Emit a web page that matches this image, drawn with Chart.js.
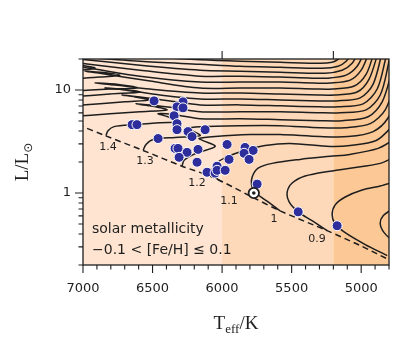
<!DOCTYPE html>
<html>
<head>
<meta charset="utf-8">
<script src="https://cdn.jsdelivr.net/npm/chart.js@4.4.1/dist/chart.umd.min.js"></script>
<style>
  html, body { margin: 0; padding: 0; background: #fff; }
  #wrap { width: 415px; height: 344px; position: relative; }
</style>
</head>
<body>
<div id="wrap"><canvas id="hrd"></canvas></div>
<script>
// axis ticks and background bands (Teff in K, luminosity in Lsun)
const xMajor = [5000, 5500, 6000, 6500, 7000];
const yMajor = [1, 10];
const yMinor = [0.2, 0.3, 0.4, 0.5, 0.6, 0.7, 0.8, 0.9, 2, 3, 4, 5, 6, 7, 8, 9, 20];
const topTicks = [6000, 5200];
const bandEdges = [7000, 6000, 5200, 4800];
const bandColors = ["#fee4d1", "#fdd9b9", "#fcc895"];

// zero-age main sequence (dashed)
const zams = [[7036, 4.61], [6842, 3.61], [6568, 2.59], [6288, 1.82], [6065, 1.42], [5799, 0.936],
  [5583, 0.671], [5245, 0.431], [5007, 0.309], [4777, 0.217]];

// evolutionary tracks, [Teff, L]
const m075 = [[4763, 0.331], [4835, 0.412], [4863, 0.503], [4842, 0.601], [4763, 0.717]];
const m08 = [[4813, 0.247], [4971, 0.316], [5115, 0.412], [5187, 0.503], [5209, 0.614], [5187, 0.767],
  [5115, 0.915], [4993, 1.07], [4863, 1.17], [4763, 1.28]];
const m09 = [[5245, 0.431], [5353, 0.538], [5453, 0.656], [5518, 0.819], [5532, 1.02], [5496, 1.25],
  [5403, 1.46], [5223, 1.63], [5079, 1.74], [4863, 1.94], [4763, 2.22]];
const m10 = [[5583, 0.671], [5669, 0.819], [5748, 0.978], [5784, 1.14], [5784, 1.42], [5741, 1.74],
  [5640, 1.94], [5439, 2.12], [5223, 2.27], [5079, 2.37], [4878, 2.71], [4763, 3.31]];
const m11 = [[6000, 1.28], [6050, 1.42], [6072, 1.63], [6043, 1.94], [5957, 2.27], [5835, 2.59],
  [5691, 2.89], [5511, 3.03], [5223, 2.83], [5079, 2.89], [4892, 3.23], [4777, 4.41]];
const m12 = [[6288, 1.82], [6273, 2.08], [6187, 2.43], [6050, 2.83], [6137, 3.23], [6165, 3.38],
  [6050, 3.53], [5799, 3.69], [5583, 3.69], [5295, 3.53], [5094, 3.53], [4914, 3.95], [4806, 5.38], [4748, 8.95]];
const m13 = [[6568, 2.59], [6547, 2.96], [6496, 3.31], [6338, 3.46], [6158, 3.61], [6216, 4.03],
  [6252, 4.22], [6158, 4.41], [5871, 4.51], [5583, 4.51], [5295, 4.31], [5115, 4.31], [4935, 4.71],
  [4827, 6.42], [4755, 11.94]];
const m14 = [[6835, 3.61], [6820, 4.03], [6777, 4.41], [6626, 4.61], [6446, 4.82], [6302, 4.92],
  [6389, 5.50], [6460, 5.88], [6338, 5.75], [6158, 5.26], [5871, 5.26], [5583, 5.15], [5295, 5.04],
  [5137, 5.04], [4950, 5.50], [4849, 7.67], [4777, 15.57]];
const m15 = [[7079, 5.50], [6806, 5.88], [6590, 6.14], [6396, 6.42], [6518, 7.02], [6619, 7.34],
  [6518, 7.17], [6338, 6.71], [6158, 6.14], [5871, 6.14], [5583, 6.14], [5295, 6.01], [5151, 6.01],
  [4964, 6.42], [4863, 8.95], [4806, 17.39], [4791, 24.25]];
const m16 = [[7079, 7.02], [6878, 7.34], [6698, 7.67], [6518, 8.01], [6626, 8.56], [6719, 8.95],
  [6590, 8.56], [6374, 7.84], [6158, 7.17], [5871, 7.17], [5583, 7.02], [5295, 6.86], [5166, 6.86],
  [4986, 7.34], [4885, 10.22], [4827, 19.44], [4813, 24.25]];
const m17 = [[7079, 8.56], [6806, 9.15], [6590, 9.57], [6734, 10.22], [6842, 10.45], [6698, 10.0],
  [6446, 8.95], [6158, 8.19], [5871, 8.19], [5583, 8.01], [5295, 7.84], [5180, 7.84], [5007, 8.38],
  [4914, 11.42], [4849, 23.2]];
const m18 = [[7079, 9.78], [6806, 10.22], [6604, 10.45], [6770, 11.42], [6914, 11.68], [6770, 11.17],
  [6518, 10.22], [6158, 9.36], [5871, 9.36], [5583, 9.15], [5309, 8.95], [5194, 8.95], [5029, 9.57],
  [4943, 12.76], [4878, 23.2]];
const m19 = [[7079, 12.76], [6878, 13.34], [6734, 13.94], [6878, 14.89], [6986, 15.23], [6878, 14.57],
  [6518, 12.2], [6158, 10.45], [5871, 10.45], [5583, 10.45], [5324, 10.22], [5209, 10.22], [5050, 10.93],
  [4964, 14.25], [4907, 23.2]];
const m20 = [[7079, 15.23], [6914, 16.27], [7007, 17.39], [7140, 18.18], [7140, 17.39], [7000, 16.64],
  [6590, 13.63], [6158, 11.94], [5871, 11.94], [5583, 11.94], [5338, 11.68], [5223, 11.68], [5079, 12.48],
  [5000, 15.57], [4943, 23.2]];
const m21 = [[7079, 18.59], [6590, 15.57], [6158, 13.63], [5871, 13.63], [5583, 13.34], [5353, 13.04],
  [5237, 13.04], [5108, 13.94], [5029, 17.01], [4978, 23.2]];
const m22 = [[7079, 20.31], [6590, 17.39], [6158, 15.57], [5871, 15.23], [5583, 14.89], [5259, 14.57],
  [5137, 15.57], [5065, 18.18], [5022, 23.2]];
const m23 = [[7079, 21.23], [6590, 19.01], [6158, 17.78], [5871, 17.01], [5583, 16.64], [5281, 16.27],
  [5166, 17.01], [5108, 19.01], [5065, 23.2]];
const m24 = [[7079, 23.2], [6590, 21.23], [6158, 19.66], [5871, 19.01], [5583, 18.59], [5295, 18.18],
  [5209, 18.59], [5166, 19.87], [5115, 23.2]];

// mass labels along the ZAMS
const massLabels = ["1.4", "1.3", "1.2", "1.1", "1", "0.9"];
const massLabelPos = [[6820, 2.77], [6554, 2.03], [6180, 1.25], [5950, 0.838], [5626, 0.562], [5317, 0.353]];

// observed stars
const stars = [[6489, 7.84], [6281, 7.67], [6324, 6.86], [6281, 6.71], [6345, 5.62], [6324, 4.71],
  [6324, 4.12], [6647, 4.61], [6612, 4.61], [6460, 3.38], [6245, 3.95], [6216, 3.53], [6122, 4.12],
  [6338, 2.71], [6317, 2.71], [6252, 2.48], [6173, 2.65], [6309, 2.22], [6180, 1.99], [6108, 1.59],
  [6050, 1.56], [6036, 1.82], [6036, 1.66], [5978, 1.66], [5950, 2.12], [5964, 2.96], [5835, 2.77],
  [5777, 2.59], [5842, 2.43], [5806, 2.12], [5748, 1.22], [5453, 0.656], [5173, 0.481]];
const sun = [[5772, 1.0]];

const ink = "#1e1e1e";
const sans = "'DejaVu Sans', sans-serif";
const serif = "'Liberation Serif', 'DejaVu Serif', serif";

function pts(arr) {
  return arr.map(p => ({ x: p[0], y: p[1] }));
}

function track(arr) {
  return {
    data: pts(arr), showLine: true, borderColor: ink, borderWidth: 1.5,
    pointRadius: 0, tension: 0.3, clip: 0
  };
}

const trackList = [m075, m08, m09, m10, m11, m12, m13, m14, m15, m16, m17, m18, m19, m20, m21, m22, m23, m24];

const datasets = [
  { data: pts(sun), pointRadius: 1.8, backgroundColor: ink, borderWidth: 0 },
  { data: pts(sun), pointRadius: 5.2, backgroundColor: "#fff", borderColor: ink, borderWidth: 1.8 },
  { data: pts(stars), pointRadius: 5, backgroundColor: "#2d2d9b", borderColor: "#fff", borderWidth: 1 },
  { data: pts(zams), showLine: true, borderColor: ink, borderWidth: 1.5, borderDash: [6, 4],
    pointRadius: 0, tension: 0.3, clip: 0 }
];
trackList.forEach(t => datasets.push(track(t)));

const decor = {
  id: "decor",
  beforeDatasetsDraw(chart) {
    const { ctx, chartArea: a, scales: { x } } = chart;
    ctx.save();
    for (let i = 0; i < bandColors.length; i++) {
      const x0 = x.getPixelForValue(bandEdges[i]);
      const x1 = x.getPixelForValue(bandEdges[i + 1]);
      ctx.fillStyle = bandColors[i];
      ctx.fillRect(x0, a.top, x1 - x0, a.bottom - a.top);
    }
    ctx.restore();
  },
  afterDatasetsDraw(chart) {
    const { ctx, chartArea: a, scales: { x, y } } = chart;
    ctx.save();
    ctx.fillStyle = ink;
    ctx.font = "11px " + sans;
    ctx.textAlign = "center";
    ctx.textBaseline = "middle";
    massLabels.forEach((t, i) => {
      ctx.fillText(t, x.getPixelForValue(massLabelPos[i][0]), y.getPixelForValue(massLabelPos[i][1]));
    });
    ctx.font = "14px " + sans;
    ctx.textAlign = "left";
    ctx.fillText("solar metallicity", a.left + 9, a.bottom - 36);
    ctx.fillText("\u22120.1 < [Fe/H] \u2264 0.1", a.left + 9, a.bottom - 15);
    ctx.restore();
  },
  afterDraw(chart) {
    const { ctx, chartArea: a, scales: { x, y } } = chart;
    ctx.save();
    ctx.strokeStyle = ink;
    ctx.lineWidth = 1.3;
    ctx.strokeRect(a.left, a.top, a.right - a.left, a.bottom - a.top);
    ctx.lineWidth = 1.1;
    ctx.beginPath();
    for (let t = 4800; t <= 7000; t += 100) {
      const px = x.getPixelForValue(t);
      const len = t % 500 === 0 ? 8 : 4.5;
      ctx.moveTo(px, a.bottom);
      ctx.lineTo(px, a.bottom + len);
    }
    topTicks.forEach(t => {
      const px = x.getPixelForValue(t);
      ctx.moveTo(px, a.top);
      ctx.lineTo(px, a.top - 8);
    });
    yMajor.forEach(v => {
      const py = y.getPixelForValue(v);
      ctx.moveTo(a.left, py);
      ctx.lineTo(a.left - 8, py);
    });
    yMinor.forEach(v => {
      const py = y.getPixelForValue(v);
      ctx.moveTo(a.left, py);
      ctx.lineTo(a.left - 4.5, py);
    });
    ctx.stroke();

    // axis titles
    ctx.fillStyle = ink;
    ctx.textBaseline = "alphabetic";
    ctx.textAlign = "left";
    const big = "19px " + serif;
    const small = "13px " + serif;
    ctx.font = big;
    const wT = ctx.measureText("T").width;
    const wK = ctx.measureText("/K").width;
    ctx.font = small;
    const wE = ctx.measureText("eff").width;
    let cx = (a.left + a.right) / 2 - (wT + wE + wK) / 2;
    const by = 329;
    ctx.font = big;
    ctx.fillText("T", cx, by);
    ctx.font = small;
    ctx.fillText("eff", cx + wT, by + 4);
    ctx.font = big;
    ctx.fillText("/K", cx + wT + wE, by);

    ctx.translate(28, (a.top + a.bottom) / 2);
    ctx.rotate(-Math.PI / 2);
    ctx.font = big;
    const wL = ctx.measureText("L/L").width;
    ctx.font = "12px " + sans;
    const wS = ctx.measureText("\u2299").width;
    const u0 = -(wL + wS) / 2;
    ctx.font = big;
    ctx.fillText("L/L", u0, 0);
    ctx.font = "12px " + sans;
    ctx.fillText("\u2299", u0 + wL, 4);
    ctx.restore();
  }
};

new Chart(document.getElementById("hrd"), {
  type: "scatter",
  data: { datasets: datasets },
  options: {
    responsive: true,
    maintainAspectRatio: false,
    animation: false,
    events: [],
    layout: { padding: { top: 59, right: 26, left: 0, bottom: 0 } },
    plugins: { legend: { display: false }, tooltip: { enabled: false } },
    scales: {
      x: {
        type: "linear", reverse: true, min: 4800, max: 7000,
        grid: { display: false, drawTicks: false },
        border: { display: false },
        afterBuildTicks: s => { s.ticks = xMajor.map(v => ({ value: v })); },
        afterFit: s => { s.height = 79; },
        ticks: { color: ink, font: { family: sans, size: 13 }, padding: 16, maxRotation: 0,
          callback: v => String(v) }
      },
      y: {
        type: "logarithmic", min: 0.2, max: 20,
        grid: { display: false, drawTicks: false },
        border: { display: false },
        afterBuildTicks: s => { s.ticks = yMajor.map(v => ({ value: v })); },
        afterFit: s => { s.width = 83; },
        ticks: { color: ink, font: { family: sans, size: 13 }, padding: 12,
          callback: v => String(v) }
      }
    }
  },
  plugins: [decor]
});
</script>
</body>
</html>
